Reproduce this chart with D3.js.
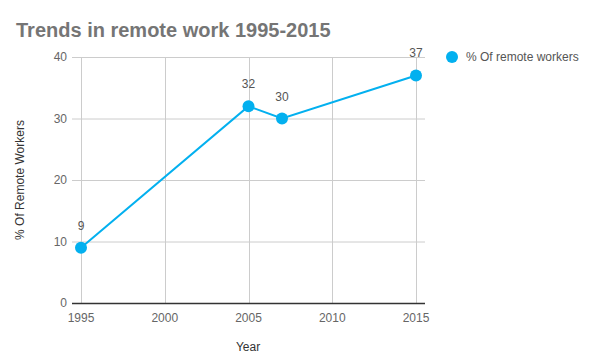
<!DOCTYPE html>
<html>
<head>
<meta charset="utf-8">
<script src="https://cdn.jsdelivr.net/npm/d3@7"></script>
<style>
	body { margin: 0; background: #fff; }
	text { font-family: Arial, "Liberation Sans", sans-serif; }
</style>
</head>
<body>
<div class="c-svg"></div>
<script>
//DATA
//-------------------------------------------------------------------------
const years = [1995, 2005, 2007, 2015];
const remoteWorkers = [9, 32, 30, 37];
const xTicks = [1995, 2000, 2005, 2010, 2015];
const yTicks = [0, 10, 20, 30, 40];
const seriesName = "% Of remote workers";

const color = "#03b0ef";

//SVG
//-------------------------------------------------------------------------
const width = 595, height = 360;

const svg = d3.select(".c-svg")
	.append("svg")
	.attr("width", width)
	.attr("height", height);

svg.append("rect")
	.attr("width", width)
	.attr("height", height)
	.attr("fill", "#fff");

//scales
const x = d3.scaleLinear().domain([1995, 2015]).range([81, 416]);
const y = d3.scaleLinear().domain([0, 40]).range([303, 57]);
const plotLeft = 72, plotRight = 425;

//title
svg.append("text")
	.attr("x", 16)
	.attr("y", 37)
	.attr("font-size", 20)
	.attr("font-weight", "bold")
	.attr("fill", "#757575")
	.text("Trends in remote work 1995-2015");

//grid
const grid = svg.append("g");
grid.selectAll(".hgrid")
	.data(yTicks.filter(d => d !== 0))
	.join("line")
	.attr("x1", plotLeft).attr("x2", plotRight)
	.attr("y1", d => y(d) + 0.5).attr("y2", d => y(d) + 0.5)
	.attr("stroke", "#cccccc");

grid.selectAll(".vgrid")
	.data(xTicks)
	.join("line")
	.attr("x1", d => Math.round(x(d)) + 0.5).attr("x2", d => Math.round(x(d)) + 0.5)
	.attr("y1", y(40)).attr("y2", y(0))
	.attr("stroke", "#cccccc");

//baseline
svg.append("line")
	.attr("x1", plotLeft).attr("x2", plotRight)
	.attr("y1", y(0) + 0.5).attr("y2", y(0) + 0.5)
	.attr("stroke", "#333")
	.attr("stroke-width", 1.3);

//axis labels
svg.append("g")
	.selectAll("text")
	.data(yTicks)
	.join("text")
	.attr("x", 67)
	.attr("y", d => y(d) + 4)
	.attr("text-anchor", "end")
	.attr("font-size", 12)
	.attr("fill", "#666")
	.text(d => d);

svg.append("g")
	.selectAll("text")
	.data(xTicks)
	.join("text")
	.attr("x", d => x(d))
	.attr("y", 322)
	.attr("text-anchor", "middle")
	.attr("font-size", 12)
	.attr("fill", "#666")
	.text(d => d);

svg.append("text")
	.attr("x", 248)
	.attr("y", 351)
	.attr("text-anchor", "middle")
	.attr("font-size", 12)
	.attr("fill", "#333")
	.text("Year");

svg.append("text")
	.attr("transform", `translate(24 ${(y(0) + y(40)) / 2}) rotate(-90)`)
	.attr("text-anchor", "middle")
	.attr("font-size", 12)
	.attr("fill", "#333")
	.text("% Of Remote Workers");

//line
const points = years.map((d, i) => ({ year: d, value: remoteWorkers[i] }));

svg.append("path")
	.datum(points)
	.attr("fill", "none")
	.attr("stroke", color)
	.attr("stroke-width", 2)
	.attr("d", d3.line().x(d => x(d.year)).y(d => y(d.value)));

svg.append("g")
	.selectAll("circle")
	.data(points)
	.join("circle")
	.attr("cx", d => x(d.year))
	.attr("cy", d => y(d.value))
	.attr("r", 6)
	.attr("fill", color);

svg.append("g")
	.selectAll("text")
	.data(points)
	.join("text")
	.attr("x", d => x(d.year))
	.attr("y", d => y(d.value) - 18)
	.attr("text-anchor", "middle")
	.attr("font-size", 12)
	.attr("fill", "#555")
	.text(d => d.value);

//legend
svg.append("circle")
	.attr("cx", 452)
	.attr("cy", 57)
	.attr("r", 6)
	.attr("fill", color);

svg.append("text")
	.attr("x", 466)
	.attr("y", 61)
	.attr("font-size", 12)
	.attr("fill", "#555")
	.text(seriesName);
</script>
</body>
</html>
